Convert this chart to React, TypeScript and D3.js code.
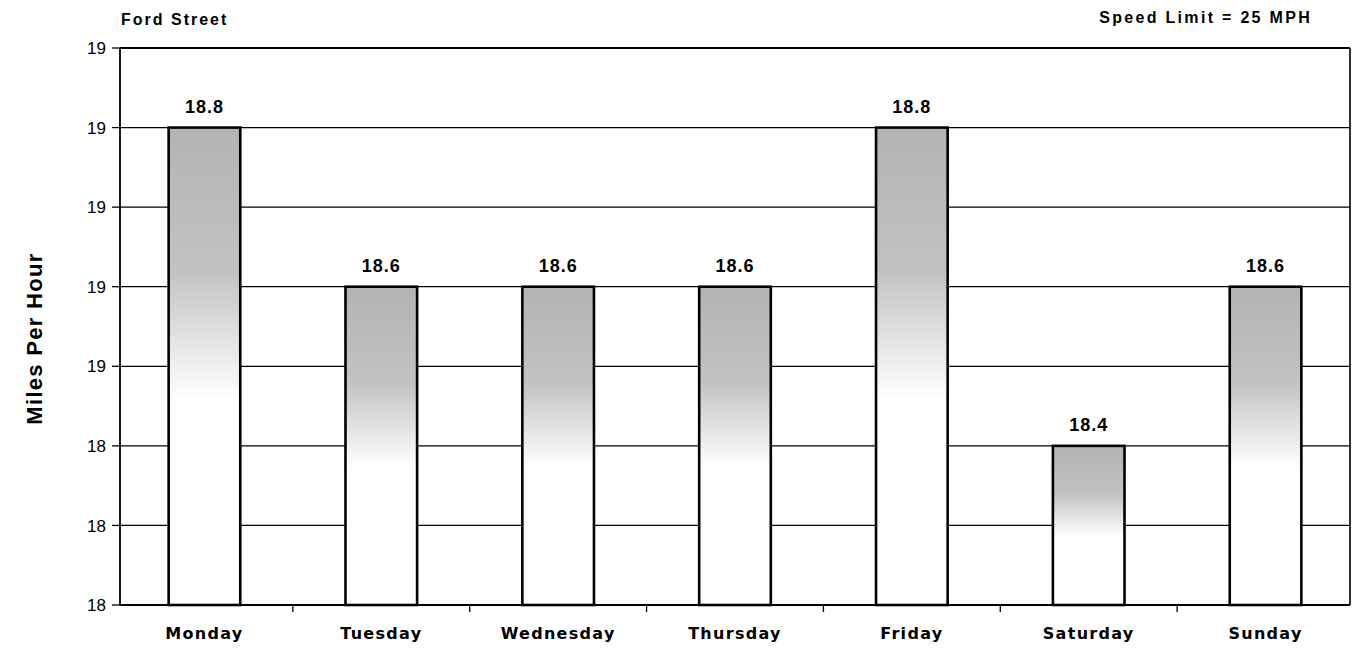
import * as d3 from 'd3';
import React from 'react';

// daily average speeds, Ford Street
const days = ['Monday', 'Tuesday', 'Wednesday', 'Thursday', 'Friday', 'Saturday', 'Sunday'];
const speeds = [18.8, 18.6, 18.6, 18.6, 18.8, 18.4, 18.6];
const yTicks = [18.2, 18.3, 18.4, 18.5, 18.6, 18.7, 18.8, 18.9];

const title = 'Ford Street';
const note = 'Speed Limit = 25 MPH';
const yTitle = 'Miles Per Hour';

export default function App() {
  const width = 1353;
  const height = 649;
  const margin = { top: 48, right: 3, bottom: 44, left: 120 };
  const plotW = width - margin.left - margin.right;
  const plotH = height - margin.top - margin.bottom;

  const x = d3.scaleBand().domain(days).range([0, plotW]).paddingInner(0.595).paddingOuter(0.275);
  const y = d3.scaleLinear().domain([18.2, 18.9]).range([plotH, 0]);

  // tick marks sit halfway between the bars
  const gap = x.step() - x.bandwidth();
  const minorTicks = days.slice(1).map((d) => (x(d) as number) - gap / 2);

  const bold = { fontFamily: '"Liberation Sans", Arial, sans-serif', fontWeight: 'bold' as const };

  return (
    <svg width={width} height={height} style={{ position: 'absolute', left: 0, top: 0, background: '#fff' }}>
      <defs>
        <linearGradient id="barFill" x1="0" y1="0" x2="0" y2="1">
          <stop offset="0" stopColor="#b3b3b3" />
          <stop offset="0.3" stopColor="#c2c2c2" />
          <stop offset="0.57" stopColor="#ffffff" />
          <stop offset="1" stopColor="#ffffff" />
        </linearGradient>
      </defs>

      <text x={121} y={25} fontSize={16} letterSpacing={2} style={bold}>{title}</text>
      <text x={1312} y={23} fontSize={16} letterSpacing={2.3} textAnchor="end" style={bold}>{note}</text>

      <text
        transform={`translate(42,${margin.top + plotH / 2 + 12}) rotate(-90)`}
        textAnchor="middle"
        fontSize={22}
        letterSpacing={1.3}
        style={bold}
      >
        {yTitle}
      </text>

      <g transform={`translate(${margin.left},${margin.top})`}>
        {/* gridlines */}
        {yTicks.map((t) => (
          <line key={t} x1={0} x2={plotW} y1={y(t)} y2={y(t)} stroke="#000" strokeWidth={1.3} />
        ))}
        <line x1={plotW} x2={plotW} y1={0} y2={plotH} stroke="#000" strokeWidth={1.6} />
        <line x1={0} x2={plotW} y1={0} y2={0} stroke="#000" strokeWidth={1.8} />

        {/* y axis */}
        <line x1={0} x2={0} y1={0} y2={plotH} stroke="#000" strokeWidth={1.8} />
        {yTicks.map((t) => (
          <g key={t} transform={`translate(0,${y(t)})`}>
            <line x1={-8} x2={0} stroke="#000" strokeWidth={1.3} />
            <text x={-14} dy="0.36em" textAnchor="end" fontSize={17} fontFamily='"Liberation Sans", Arial, sans-serif'>
              {d3.format('.0f')(t)}
            </text>
          </g>
        ))}

        {/* x axis */}
        <line x1={0} x2={plotW} y1={plotH} y2={plotH} stroke="#000" strokeWidth={1.8} />
        {minorTicks.map((m) => (
          <line key={m} x1={m} x2={m} y1={plotH} y2={plotH + 7} stroke="#000" strokeWidth={1.3} />
        ))}

        {/* bars */}
        {days.map((d, i) => (
          <g key={d}>
            <rect
              x={x(d)}
              y={y(speeds[i])}
              width={x.bandwidth()}
              height={plotH - y(speeds[i])}
              fill="url(#barFill)"
              stroke="#000"
              strokeWidth={2.6}
            />
            <text
              x={(x(d) as number) + x.bandwidth() / 2}
              y={y(speeds[i]) - 15}
              textAnchor="middle"
              fontSize={18}
              letterSpacing={1}
              style={bold}
            >
              {speeds[i].toFixed(1)}
            </text>
            <text
              x={(x(d) as number) + x.bandwidth() / 2}
              y={plotH + 34}
              textAnchor="middle"
              fontSize={16}
              letterSpacing={1.3}
              fontFamily='"DejaVu Sans", Verdana, sans-serif'
              fontWeight="bold"
            >
              {d}
            </text>
          </g>
        ))}
      </g>
    </svg>
  );
}
